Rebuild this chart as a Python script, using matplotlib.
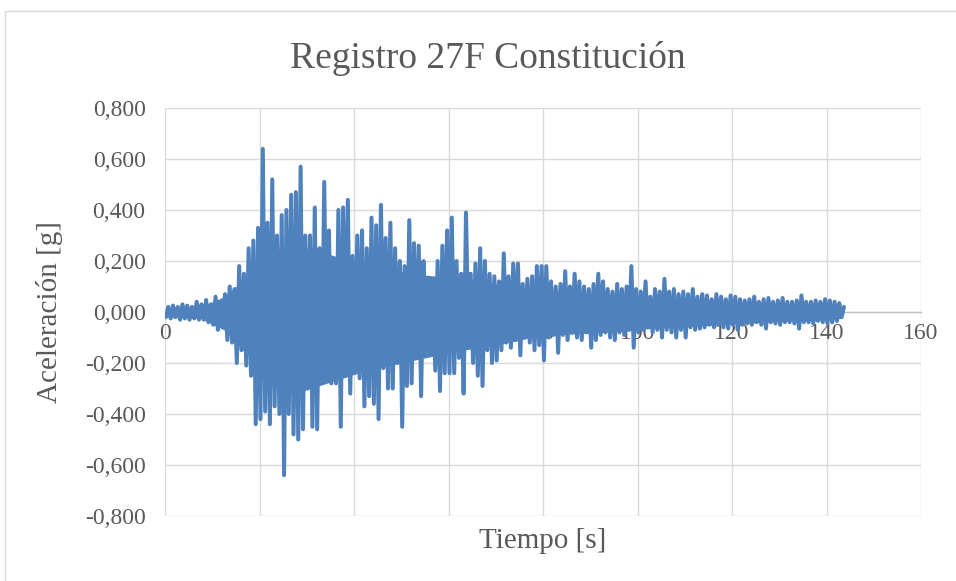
import numpy as np
import matplotlib
matplotlib.use("Agg")
import matplotlib.pyplot as plt
from matplotlib.ticker import FuncFormatter
from matplotlib.patches import Rectangle

# Peak acceleration [g] read per 1 s window (t = 0 .. 143 s)
pos_peaks = [
    0.02, 0.025, 0.02, 0.03, 0.025, 0.02, 0.04, 0.03, 0.047, 0.03,
    0.06, 0.04, 0.07, 0.10, 0.09, 0.18, 0.15, 0.25, 0.28, 0.33,
    0.64, 0.35, 0.52, 0.30, 0.38, 0.40, 0.46, 0.47, 0.57, 0.30,
    0.30, 0.41, 0.25, 0.51, 0.32, 0.20, 0.40, 0.41, 0.44, 0.22,
    0.30, 0.32, 0.25, 0.37, 0.34, 0.42, 0.29, 0.35, 0.25, 0.20,
    0.18, 0.36, 0.27, 0.26, 0.20, 0.12, 0.12, 0.20, 0.26, 0.32,
    0.37, 0.20, 0.15, 0.39, 0.15, 0.19, 0.25, 0.20, 0.15, 0.14,
    0.12, 0.23, 0.14, 0.19, 0.19, 0.11, 0.13, 0.14, 0.18, 0.18,
    0.18, 0.12, 0.10, 0.11, 0.16, 0.10, 0.15, 0.12, 0.10, 0.09,
    0.11, 0.15, 0.12, 0.09, 0.08, 0.11, 0.09, 0.10, 0.18, 0.09,
    0.08, 0.12, 0.06, 0.09, 0.08, 0.13, 0.08, 0.09, 0.07, 0.08,
    0.07, 0.09, 0.06, 0.07, 0.065, 0.05, 0.07, 0.06, 0.05, 0.065,
    0.06, 0.05, 0.045, 0.05, 0.06, 0.04, 0.05, 0.055, 0.04, 0.045,
    0.055, 0.04, 0.04, 0.045, 0.065, 0.04, 0.04, 0.045, 0.04, 0.05,
    0.045, 0.04, 0.035, 0.02,
]
neg_peaks = [
    -0.02, -0.025, -0.02, -0.03, -0.025, -0.03, -0.025, -0.03, -0.03, -0.04,
    -0.05, -0.07, -0.06, -0.11, -0.12, -0.20, -0.15, -0.21, -0.25, -0.44,
    -0.42, -0.39, -0.44, -0.37, -0.40, -0.64, -0.40, -0.48, -0.50, -0.46,
    -0.30, -0.45, -0.46, -0.25, -0.22, -0.28, -0.28, -0.45, -0.25, -0.32,
    -0.20, -0.26, -0.37, -0.33, -0.36, -0.42, -0.22, -0.30, -0.30, -0.20,
    -0.45, -0.29, -0.28, -0.18, -0.33, -0.15, -0.12, -0.23, -0.31, -0.24,
    -0.24, -0.24, -0.18, -0.32, -0.10, -0.20, -0.25, -0.29, -0.15, -0.20,
    -0.19, -0.15, -0.12, -0.14, -0.11, -0.17, -0.10, -0.12, -0.15, -0.13,
    -0.19, -0.10, -0.09, -0.16, -0.09, -0.11, -0.08, -0.10, -0.11, -0.08,
    -0.14, -0.11, -0.09, -0.08, -0.10, -0.11, -0.08, -0.09, -0.07, -0.14,
    -0.08, -0.07, -0.06, -0.08, -0.07, -0.10, -0.07, -0.08, -0.10, -0.07,
    -0.10, -0.06, -0.07, -0.065, -0.06, -0.05, -0.06, -0.05, -0.06, -0.065,
    -0.05, -0.07, -0.05, -0.045, -0.05, -0.04, -0.05, -0.065, -0.04, -0.045,
    -0.05, -0.04, -0.04, -0.045, -0.065, -0.04, -0.04, -0.045, -0.035, -0.04,
    -0.045, -0.04, -0.035, -0.02,
]
# dense core of the record (solid band), read per 5 s window
core_time = [0.5, 7.5, 12.5, 17.5, 22.5, 27.5, 32.5, 37.5, 42.5, 47.5,
             52.5, 57.5, 62.5, 67.5, 72.5, 77.5, 82.5, 87.5, 92.5, 97.5,
             102.5, 107.5, 112.5, 117.5, 122.5, 127.5, 132.5, 137.5, 143.2]
core_pos = [0.015, 0.02, 0.06, 0.14, 0.24, 0.26, 0.24, 0.21, 0.19, 0.17,
            0.15, 0.14, 0.13, 0.12, 0.10, 0.09, 0.08, 0.075, 0.07, 0.065,
            0.055, 0.05, 0.045, 0.04, 0.035, 0.035, 0.03, 0.03, 0.02]
core_neg = [-0.02, -0.025, -0.07, -0.17, -0.29, -0.32, -0.29, -0.26, -0.23, -0.21,
            -0.19, -0.17, -0.15, -0.14, -0.12, -0.10, -0.09, -0.085, -0.08, -0.075,
            -0.065, -0.06, -0.055, -0.05, -0.045, -0.04, -0.035, -0.035, -0.025]
x_ticks = [0, 20, 40, 60, 80, 100, 120, 140, 160]
y_ticks = [-0.8, -0.6, -0.4, -0.2, 0.0, 0.2, 0.4, 0.6, 0.8]

# interleave: negative swing early in each second, positive swing late
t_sec = np.arange(len(pos_peaks))
t = np.empty(2 * len(t_sec))
acc = np.empty(2 * len(t_sec))
t[0::2] = t_sec + 0.2
t[1::2] = t_sec + 0.7
acc[0::2] = neg_peaks
acc[1::2] = pos_peaks

W, H = 956, 581
blue = '#4f81bd'
fig = plt.figure(figsize=(W / 100, H / 100), dpi=100)
fig.patches.append(Rectangle((5 / W, -0.1), 1.2, 1 - 11 / H + 0.1,
                             transform=fig.transFigure, fill=False,
                             edgecolor='#d9d9d9', linewidth=1.0))

ax = fig.add_axes([165 / W, 1 - 516 / H, (921 - 165) / W, (516 - 108) / H])
ax.fill_between(core_time, core_neg, core_pos, color=blue, linewidth=0, zorder=3)
ax.plot(t, acc, color=blue, linewidth=2.9,
        solid_joinstyle='round', solid_capstyle='round', zorder=3)

ax.set_xlim(0, 160)
ax.set_ylim(-0.8, 0.8)
ax.set_xticks(x_ticks)
ax.set_yticks(y_ticks)
ax.yaxis.set_major_formatter(FuncFormatter(
    lambda v, p: f"{v:.3f}".replace('.', ',') if abs(v) > 1e-9 else "0,000"))
ax.grid(True, color='#d9d9d9', linewidth=1.0, zorder=0)
ax.set_axisbelow(True)

for s in ['top', 'right', 'left']:
    ax.spines[s].set_visible(False)
ax.spines['bottom'].set_position(('data', 0))
ax.spines['bottom'].set_color('#bfbfbf')
ax.spines['bottom'].set_linewidth(1.0)
ax.spines['bottom'].set_zorder(1)

ax.tick_params(axis='both', length=0, colors='#595959')
ax.tick_params(axis='y', pad=14)
ax.tick_params(axis='x', pad=8)
for lab in ax.get_xticklabels() + ax.get_yticklabels():
    lab.set_fontfamily('Liberation Serif')
    lab.set_fontsize(17)

fig.text(488 / W, 1 - 68 / H, "Registro 27F Constitución", ha='center',
         va='baseline', fontsize=27, family='Liberation Serif', color='#595959')
fig.text(543 / W, 1 - 548 / H, "Tiempo [s]", ha='center', va='baseline',
         fontsize=21, family='Liberation Serif', color='#595959')
fig.text(50 / W, 1 - 312 / H, "Aceleración [g]", ha='center', va='center',
         rotation=90, fontsize=21, family='Liberation Serif', color='#595959')

fig.savefig("out.png", dpi=100)
